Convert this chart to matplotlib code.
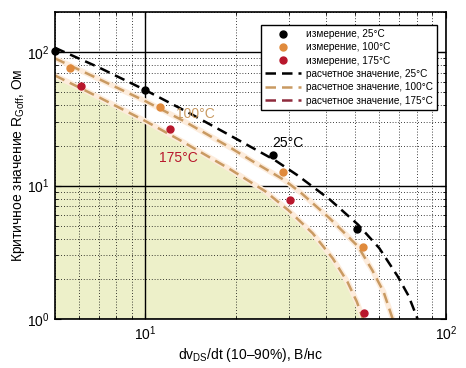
import matplotlib
matplotlib.use("Agg")
import matplotlib.pyplot as plt
from matplotlib.lines import Line2D
from matplotlib.ticker import LogLocator, NullFormatter

plt.rcParams['font.family'] = ['Liberation Sans', 'DejaVu Sans']
plt.rcParams['mathtext.fontset'] = 'custom'
plt.rcParams['mathtext.rm'] = 'Liberation Sans'
plt.rcParams['mathtext.it'] = 'Liberation Sans:italic'
plt.rcParams['mathtext.bf'] = 'Liberation Sans:bold'

# measured points
meas25_x = [5.0, 10.0, 26.6, 50.6]
meas25_y = [103, 52, 16.9, 4.7]
meas100_x = [5.63, 11.2, 28.7, 53.0]
meas100_y = [76, 38.7, 12.6, 3.46]
meas175_x = [6.08, 12.1, 30.3, 53.3]
meas175_y = [55.6, 26.5, 7.8, 1.11]

# calculated curves
calc25_x = [5.0, 7.0, 10.0, 14.0, 19.0, 27.0, 32.0, 41.0, 51.0, 60.0, 69.0, 75.0, 80.5]
calc25_y = [108, 77, 52, 35, 24, 15.5, 12.0, 7.9, 5.1, 3.4, 2.1, 1.5, 1.0]
calc100_x = [5.0, 7.0, 10.0, 13.5, 19.0, 23.0, 29.0, 33.0, 41.0, 47.0, 51.0, 57.0, 62.0, 66.5]
calc100_y = [90, 63, 43, 30.3, 19.5, 15.0, 11.0, 8.8, 5.7, 4.2, 3.5, 2.3, 1.6, 1.0]
calc175_x = [5.0, 7.0, 10.0, 13.0, 19.0, 25.0, 30.0, 36.0, 42.0, 47.0, 50.5, 53.0]
calc175_y = [67, 46, 30.5, 22.0, 13.4, 9.1, 6.5, 4.4, 2.85, 1.9, 1.35, 1.0]

labels = ['измерение, 25°C', 'измерение, 100°C', 'измерение, 175°C',
          'расчетное значение, 25°C', 'расчетное значение, 100°C',
          'расчетное значение, 175°C']

c_black = '#000000'
c_orange = '#e08a3c'
c_red = '#b8172c'
c_tan = '#c99a62'
c_maroon = '#8e2a3c'
c_fill = '#edf0c9'
c_glow = '#fdecdc'

fig = plt.figure(figsize=(4.66, 3.68), dpi=100)
ax = fig.add_axes([0.118, 0.133, 0.839, 0.834])
ax.set_xscale('log')
ax.set_yscale('log')
ax.set_xlim(5, 100)
ax.set_ylim(1, 200)

ax.fill_between(calc175_x, 0.1, calc175_y, color=c_fill, lw=0, zorder=0.5)

dash = (0, (4.2, 2.4))
ax.plot(calc175_x, calc175_y, color=c_glow, lw=4.0, zorder=1.8, solid_capstyle='butt')
ax.plot(calc100_x, calc100_y, color=c_glow, lw=4.0, zorder=1.8, solid_capstyle='butt')
ax.plot(calc175_x, calc175_y, color=c_tan, lw=1.8, linestyle=dash, zorder=2)
ax.plot(calc100_x, calc100_y, color=c_tan, lw=1.8, linestyle=dash, zorder=2)
ax.plot(calc25_x, calc25_y, color=c_black, lw=1.8, linestyle=dash, zorder=2)

ax.plot(meas25_x, meas25_y, 'o', color=c_black, ms=5, zorder=3, clip_on=False)
ax.plot(meas100_x, meas100_y, 'o', color=c_orange, ms=5, zorder=3, clip_on=False)
ax.plot(meas175_x, meas175_y, 'o', color=c_red, ms=5, zorder=3, clip_on=False)

ax.text(29.7, 20.8, '25°C', color='black', fontsize=10, ha='center', va='center')
ax.text(14.7, 34.3, '100°C', color=c_tan, fontsize=10, ha='center', va='center')
ax.text(12.9, 16.1, '175°C', color=c_red, fontsize=10, ha='center', va='center')

# grid
ax.xaxis.set_minor_locator(LogLocator(base=10, subs=range(2, 10)))
ax.yaxis.set_minor_locator(LogLocator(base=10, subs=range(2, 10)))
ax.xaxis.set_minor_formatter(NullFormatter())
ax.yaxis.set_minor_formatter(NullFormatter())
ax.grid(True, which='major', color='black', lw=1.0, linestyle='-')
ax.grid(True, which='minor', color='black', lw=0.6, linestyle=(0, (1, 2.4)))
ax.tick_params(which='both', direction='in', top=True, right=True, labelsize=10)
ax.tick_params(which='major', length=4, width=0.8, pad=4)
ax.tick_params(which='minor', length=2, width=0.6)
for s in ax.spines.values():
    s.set_linewidth(1.2)

ax.set_xlabel(r'dv$_{\mathrm{DS}}$/dt (10–90%), В/нс', fontsize=10, labelpad=2)
ax.set_ylabel(r'Критичное значение R$_{\mathrm{Goff}}$, Ом', fontsize=10, labelpad=0)

handles = [
    Line2D([], [], marker='o', color=c_black, linestyle='none', ms=5),
    Line2D([], [], marker='o', color=c_orange, linestyle='none', ms=5),
    Line2D([], [], marker='o', color=c_red, linestyle='none', ms=5),
    Line2D([], [], color=c_black, lw=1.8, linestyle=dash),
    Line2D([], [], color=c_tan, lw=1.8, linestyle=dash),
    Line2D([], [], color=c_maroon, lw=1.8, linestyle=dash),
]
leg = ax.legend(handles, labels, loc='upper right', bbox_to_anchor=(0.977, 0.958),
                borderaxespad=0, fontsize=7.2, frameon=True, fancybox=False,
                framealpha=1, edgecolor='black', handlelength=3.6,
                handletextpad=0.5, labelspacing=0.33, borderpad=0.4)
leg.get_frame().set_linewidth(1.0)
leg.set_zorder(5)

fig.savefig('out.png', dpi=100)
